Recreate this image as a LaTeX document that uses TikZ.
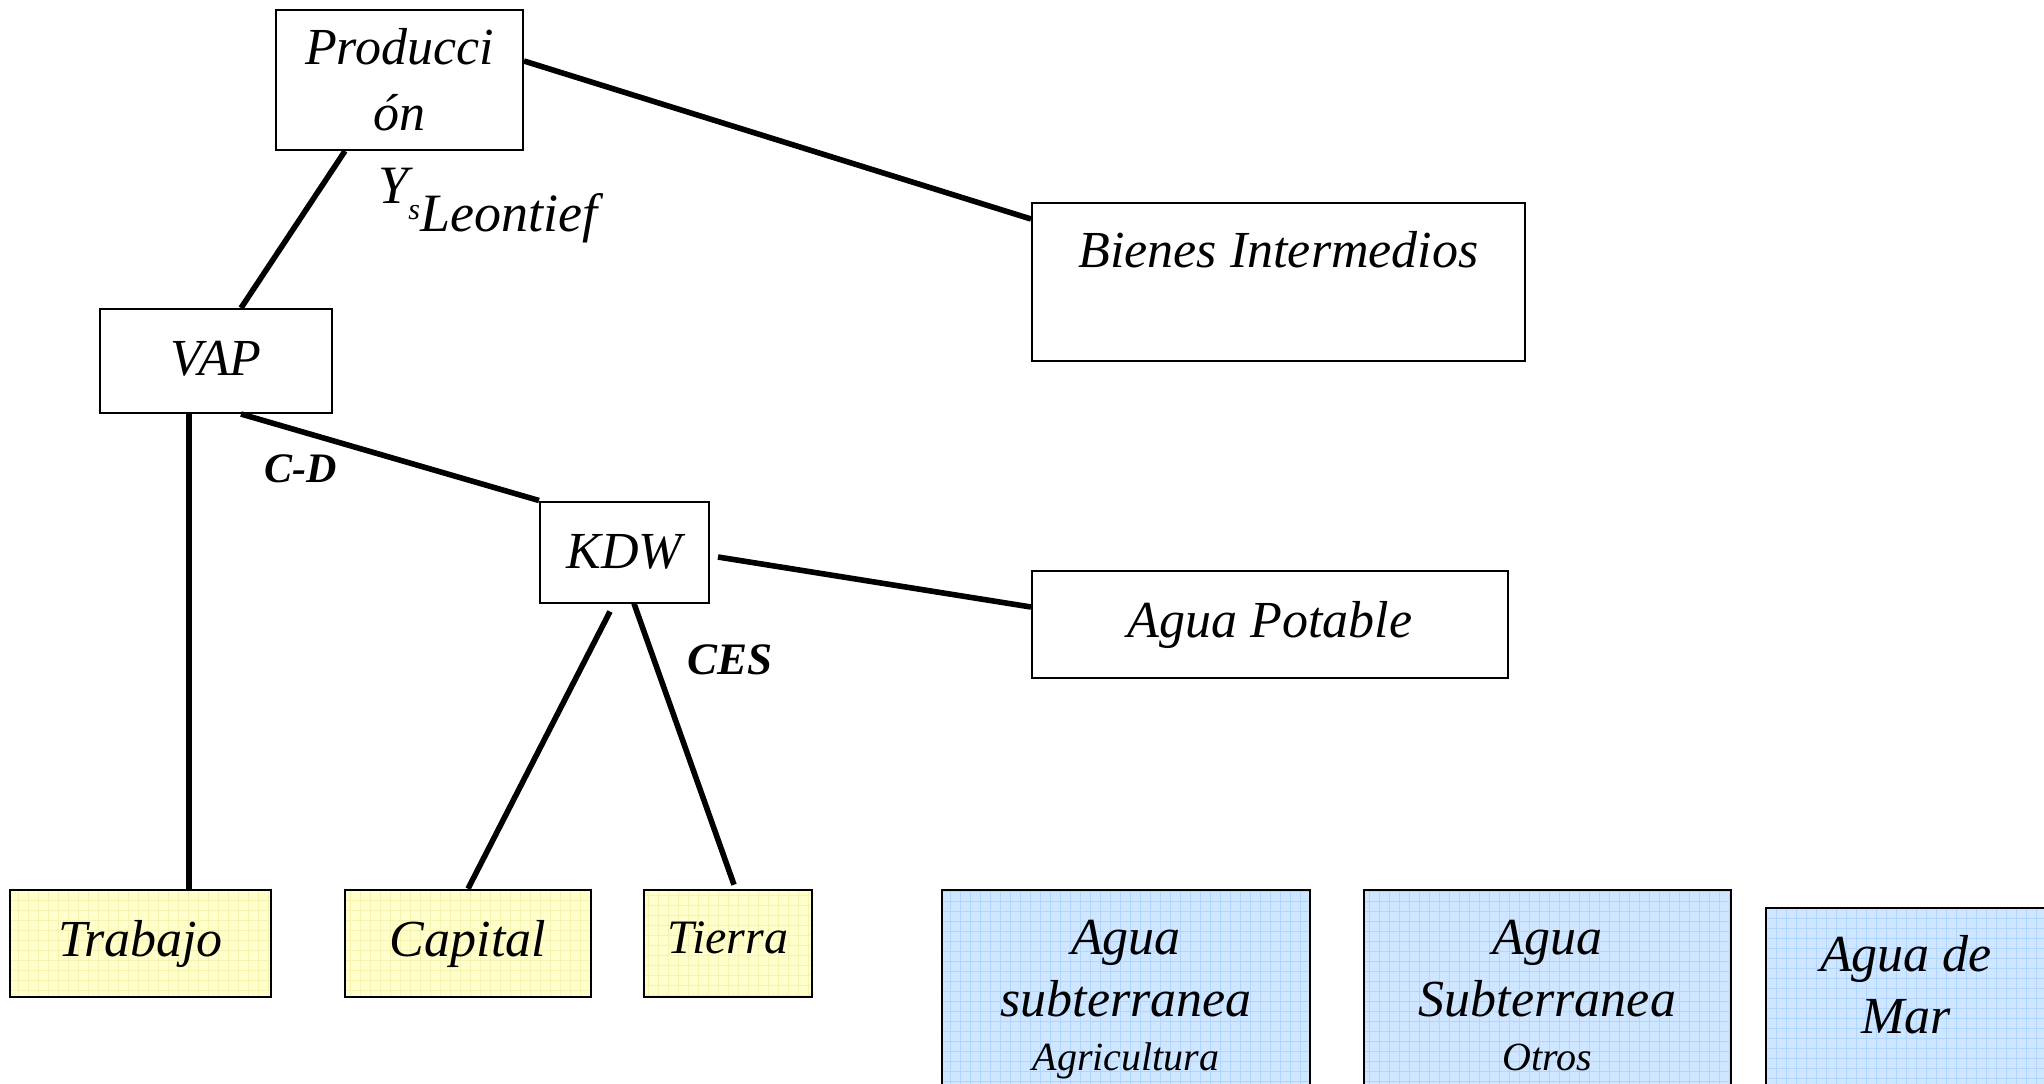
\documentclass[tikz,border=0pt]{standalone}
\usepackage{fontspec}
\setmainfont{Liberation Serif}
\usepackage{xcolor}
\definecolor{FactorFill}{RGB}{255,255,204}
\definecolor{FactorGrid}{RGB}{246,242,178}
\definecolor{WaterFill}{RGB}{206,230,255}
\definecolor{WaterGrid}{RGB}{176,213,255}
\usetikzlibrary{shapes}
\tikzstyle{block} = [rectangle, draw, line width=1pt, inner sep=0pt, align=center,
    font=\fontsize{26}{31}\selectfont\itshape]
\tikzstyle{factor} = [block, line width=1.3pt, fill=FactorFill,
    path picture={\draw[FactorGrid, line width=0.4pt, step=5pt]
      (path picture bounding box.south west) grid (path picture bounding box.north east);}]
\tikzstyle{water} = [block, line width=1.3pt, fill=WaterFill,
    path picture={\draw[WaterGrid, line width=0.4pt, step=5pt]
      (path picture bounding box.south west) grid (path picture bounding box.north east);}]
\tikzstyle{line} = [draw, line width=2.8pt]
\tikzstyle{rule} = [inner sep=0pt, font=\fontsize{21}{22}\selectfont\bfseries\itshape]

\begin{document}
\begin{tikzpicture}[x=0.5pt, y=-0.5pt]
  \useasboundingbox (0,0) rectangle (2044,1083);
  \clip (0,0) rectangle (2044,1083);
  \node [block, minimum width=123.5pt, minimum height=70pt, font=\fontsize{26}{33}\selectfont\itshape] (Prod) at (399.5,80) {\raisebox{-2pt}{Producci}\\\raisebox{-2pt}{ón}};
  \node [block, minimum width=246.5pt, minimum height=79pt] (Bienes) at (1278.5,282) {};
  \node [font=\fontsize{26}{31}\selectfont\itshape] at (1278.5,250) {Bienes Intermedios};
  \node [block, minimum width=116pt, minimum height=52pt] (VAP) at (216,361) {\raisebox{3pt}{VAP}};
  \node [block, minimum width=84.5pt, minimum height=50.5pt] (KDW) at (624.5,552) {KDW};
  \node [block, minimum width=238pt, minimum height=53.5pt] (Potable) at (1270,624.5) {\raisebox{2pt}{Agua Potable}};
  %
  \node [factor, minimum width=130.5pt, minimum height=53.5pt] (Trabajo) at (140.5,943.5) {\raisebox{2pt}{Trabajo}};
  \node [factor, minimum width=123pt, minimum height=53.5pt] (Capital) at (468,943.5) {\raisebox{2pt}{Capital}};
  \node [factor, minimum width=84pt, minimum height=53.5pt, font=\fontsize{24}{28}\selectfont\itshape] (Tierra) at (728,943.5) {\raisebox{6pt}{Tierra}};
  %
  \node [water, minimum width=184pt, minimum height=110pt] (SubAgri) at (1126,1000)
    {Agua\\subterranea\\[-4pt]{\fontsize{20}{24}\selectfont Agricultura}};
  \node [water, minimum width=183.5pt, minimum height=110pt] (SubOtros) at (1547.5,1000)
    {Agua\\Subterranea\\[-4pt]{\fontsize{20}{24}\selectfont Otros\vphantom{Ag}}};
  \node [water, minimum width=140pt, minimum height=110pt] (Mar) at (1906,1018) {};
  \node [align=center, font=\fontsize{26}{31}\selectfont\itshape] at (1906,985) {Agua de\\Mar};
  %
  \node [inner sep=0pt, anchor=base west, font=\fontsize{27}{30}\selectfont\itshape] (Leontief) at (378,231)
    {\raisebox{14pt}{Y}\raisebox{6pt}{\fontsize{15}{15}\selectfont s}Leontief};
  %
  \path [line] ([xshift=-27.25pt]Prod.south) -- ([xshift=12.5pt]VAP.north);
  \path [line] ([yshift=9.5pt]Prod.east) -- ([yshift=31.5pt]Bienes.west);
  %
  \path [line] ([xshift=-13.5pt]VAP.south) -- ([xshift=24.25pt]Trabajo.north);
  \path [line] ([xshift=12.5pt]VAP.south) -- node[rule, pos=0.2, below=10.5pt]{C-D} (KDW.north west);
  %
  \path [line] ([xshift=4pt, yshift=-2.5pt]KDW.east) -- ([yshift=8.75pt]Potable.west);
  \path [line] ([xshift=-7.25pt, yshift=-4pt]KDW.south) -- (Capital.north);
  \path [line] ([xshift=4.75pt]KDW.south) -- node[rule, pos=0.2, right=15.5pt, font=\fontsize{22.5}{24}\selectfont\bfseries\itshape]{CES} ([xshift=3pt, yshift=2pt]Tierra.north);
\end{tikzpicture}
\end{document}
